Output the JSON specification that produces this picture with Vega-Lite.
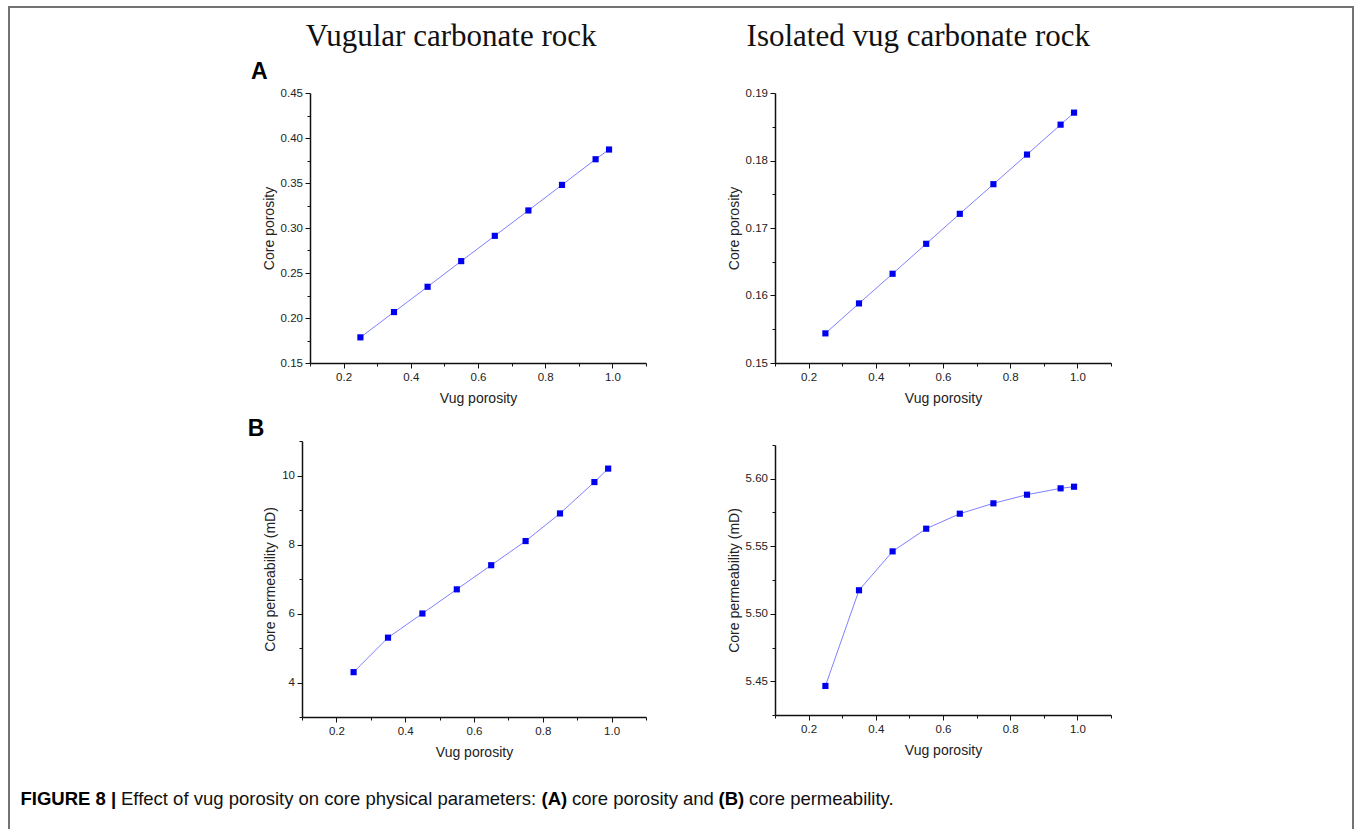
{
  "$schema": "https://vega.github.io/schema/vega-lite/v6.json",
  "padding": {"left": 8, "top": 6, "right": 0, "bottom": 0},
  "background": "white",
  "datasets": {
    "vugularPorosity": [
      {"vug": 0.25, "core": 0.1785},
      {"vug": 0.35, "core": 0.2066},
      {"vug": 0.45, "core": 0.2347},
      {"vug": 0.55, "core": 0.2632},
      {"vug": 0.65, "core": 0.2913},
      {"vug": 0.75, "core": 0.3195},
      {"vug": 0.85, "core": 0.3479},
      {"vug": 0.95, "core": 0.3764},
      {"vug": 0.99, "core": 0.3872}
    ],
    "isolatedPorosity": [
      {"vug": 0.25, "core": 0.15439},
      {"vug": 0.35, "core": 0.15883},
      {"vug": 0.45, "core": 0.16322},
      {"vug": 0.55, "core": 0.16766},
      {"vug": 0.65, "core": 0.1721},
      {"vug": 0.75, "core": 0.17649},
      {"vug": 0.85, "core": 0.18088},
      {"vug": 0.95, "core": 0.18531},
      {"vug": 0.99, "core": 0.18709}
    ],
    "vugularPermeability": [
      {"vug": 0.25, "perm": 4.3},
      {"vug": 0.35, "perm": 5.3},
      {"vug": 0.45, "perm": 6.0},
      {"vug": 0.55, "perm": 6.7},
      {"vug": 0.65, "perm": 7.4},
      {"vug": 0.75, "perm": 8.1},
      {"vug": 0.85, "perm": 8.9},
      {"vug": 0.95, "perm": 9.81},
      {"vug": 0.99, "perm": 10.2}
    ],
    "isolatedPermeability": [
      {"vug": 0.25, "perm": 5.4465},
      {"vug": 0.35, "perm": 5.5174},
      {"vug": 0.45, "perm": 5.5462},
      {"vug": 0.55, "perm": 5.563},
      {"vug": 0.65, "perm": 5.5741},
      {"vug": 0.75, "perm": 5.5818},
      {"vug": 0.85, "perm": 5.5882},
      {"vug": 0.95, "perm": 5.5929},
      {"vug": 0.99, "perm": 5.5941}
    ],
    "none": []
  },
  "config": {
    "view": {"stroke": null},
    "axis": {
      "grid": false,
      "domainColor": "#111",
      "domainWidth": 1.5,
      "tickColor": "#111",
      "tickWidth": 1,
      "labelFont": "Liberation Sans",
      "labelFontSize": 11.5,
      "labelColor": "#222",
      "labelPadding": 2.5,
      "labelFlush": false,
      "labelOverlap": false,
      "titleFont": "Liberation Sans",
      "titleFontSize": 14,
      "titleFontWeight": "normal",
      "titleColor": "#222",
      "titlePadding": 4
    },
    "axisX": {"labelPadding": 3, "titlePadding": 9}
  },
  "spacing": 0,
  "hconcat": [
    {
      "width": 2,
      "height": 823,
      "view": {"fill": "#737373", "stroke": null},
      "data": {"name": "none"},
      "mark": "point"
    },
    {
      "spacing": 13,
      "vconcat": [
        {
          "width": 1342,
          "height": 2,
          "view": {"fill": "#737373", "stroke": null},
          "data": {"name": "none"},
          "mark": "point"
        },
        {
          "spacing": 29,
          "vconcat": [
            {
              "spacing": 0,
              "hconcat": [
                {"width": 237, "height": 1, "data": {"name": "none"}, "mark": "point"},
                {
                  "spacing": 80,
                  "hconcat": [
                    {
                      "title": {"text": "Vugular carbonate rock", "font": "Liberation Serif", "fontSize": 31, "fontWeight": "normal", "color": "#111", "anchor": "middle", "frame": "bounds", "dx": 4, "offset": 8},
                      "spacing": 12,
                      "vconcat": [
                        {
                          "title": {"text": "A", "font": "Liberation Sans", "fontSize": 23, "fontWeight": "bold", "color": "#000", "anchor": "start", "frame": "bounds", "dx": -11, "offset": 3},
                          "width": 344,
                          "height": 270,
                          "data": {"name": "vugularPorosity"},
                          "encoding": {
                            "x": {"field": "vug", "type": "quantitative", "scale": {"domain": [0.1, 1.1], "range": [8, 344], "nice": false, "zero": false},
                              "axis": {"title": "Vug porosity", "values": [0.1, 0.2, 0.3, 0.4, 0.5, 0.6, 0.7, 0.8, 0.9, 1.0, 1.1],
                                "labelExpr": "round(datum.value*10)%2==0 ? format(datum.value,'.1f') : ''",
                                "tickSize": {"condition": {"test": "round(datum.value*10)%2==0", "value": 5}, "value": 3}}},
                            "y": {"field": "core", "type": "quantitative", "scale": {"domain": [0.15, 0.45], "nice": false, "zero": false},
                              "axis": {"title": "Core porosity", "offset": -8, "values": [0.15, 0.175, 0.2, 0.225, 0.25, 0.275, 0.3, 0.325, 0.35, 0.375, 0.4, 0.425, 0.45],
                                "labelExpr": "round(datum.value*40)%2==0 ? format(datum.value,'.2f') : ''",
                                "tickSize": {"condition": {"test": "round(datum.value*40)%2==0", "value": 5}, "value": 3}}}
                          },
                          "layer": [
                            {"mark": {"type": "line", "color": "#8080ff", "strokeWidth": 1}},
                            {"mark": {"type": "square", "color": "#0000f0", "size": 38, "filled": true, "opacity": 1}}
                          ]
                        },
                        {
                          "title": {"text": "B", "font": "Liberation Sans", "fontSize": 23, "fontWeight": "bold", "color": "#000", "anchor": "start", "frame": "bounds", "dx": -16, "offset": -6},
                          "width": 344,
                          "height": 276,
                          "data": {"name": "vugularPermeability"},
                          "encoding": {
                            "x": {"field": "vug", "type": "quantitative", "scale": {"domain": [0.1, 1.1], "nice": false, "zero": false},
                              "axis": {"title": "Vug porosity", "values": [0.1, 0.2, 0.3, 0.4, 0.5, 0.6, 0.7, 0.8, 0.9, 1.0, 1.1],
                                "labelExpr": "round(datum.value*10)%2==0 ? format(datum.value,'.1f') : ''",
                                "tickSize": {"condition": {"test": "round(datum.value*10)%2==0", "value": 5}, "value": 3}}},
                            "y": {"field": "perm", "type": "quantitative", "scale": {"domain": [3, 11], "nice": false, "zero": false},
                              "axis": {"title": "Core permeability (mD)", "values": [3, 4, 5, 6, 7, 8, 9, 10, 11],
                                "labelExpr": "datum.value%2==0 ? format(datum.value,'d') : ''",
                                "tickSize": {"condition": {"test": "datum.value%2==0", "value": 5}, "value": 3}}}
                          },
                          "layer": [
                            {"mark": {"type": "line", "color": "#8080ff", "strokeWidth": 1}},
                            {"mark": {"type": "square", "color": "#0000f0", "size": 38, "filled": true, "opacity": 1}}
                          ]
                        }
                      ]
                    },
                    {
                      "title": {"text": "Isolated vug carbonate rock", "font": "Liberation Serif", "fontSize": 31, "fontWeight": "normal", "color": "#111", "anchor": "middle", "frame": "bounds", "dx": -1, "offset": 8},
                      "spacing": 12,
                      "vconcat": [
                        {
                          "title": {"text": " ", "font": "Liberation Sans", "fontSize": 23, "fontWeight": "bold", "anchor": "start", "offset": 3},
                          "width": 336,
                          "height": 270,
                          "data": {"name": "isolatedPorosity"},
                          "encoding": {
                            "x": {"field": "vug", "type": "quantitative", "scale": {"domain": [0.1, 1.1], "nice": false, "zero": false},
                              "axis": {"title": "Vug porosity", "values": [0.1, 0.2, 0.3, 0.4, 0.5, 0.6, 0.7, 0.8, 0.9, 1.0, 1.1],
                                "labelExpr": "round(datum.value*10)%2==0 ? format(datum.value,'.1f') : ''",
                                "tickSize": {"condition": {"test": "round(datum.value*10)%2==0", "value": 5}, "value": 3}}},
                            "y": {"field": "core", "type": "quantitative", "scale": {"domain": [0.15, 0.19], "nice": false, "zero": false},
                              "axis": {"title": "Core porosity", "values": [0.15, 0.155, 0.16, 0.165, 0.17, 0.175, 0.18, 0.185, 0.19],
                                "labelExpr": "round(datum.value*200)%2==0 ? format(datum.value,'.2f') : ''",
                                "tickSize": {"condition": {"test": "round(datum.value*200)%2==0", "value": 5}, "value": 3}}}
                          },
                          "layer": [
                            {"mark": {"type": "line", "color": "#8080ff", "strokeWidth": 1}},
                            {"mark": {"type": "square", "color": "#0000f0", "size": 38, "filled": true, "opacity": 1}}
                          ]
                        },
                        {
                          "title": {"text": " ", "font": "Liberation Sans", "fontSize": 23, "fontWeight": "bold", "anchor": "start", "offset": -2.5},
                          "width": 336,
                          "height": 270,
                          "data": {"name": "isolatedPermeability"},
                          "encoding": {
                            "x": {"field": "vug", "type": "quantitative", "scale": {"domain": [0.1, 1.1], "nice": false, "zero": false},
                              "axis": {"title": "Vug porosity", "values": [0.1, 0.2, 0.3, 0.4, 0.5, 0.6, 0.7, 0.8, 0.9, 1.0, 1.1],
                                "labelExpr": "round(datum.value*10)%2==0 ? format(datum.value,'.1f') : ''",
                                "tickSize": {"condition": {"test": "round(datum.value*10)%2==0", "value": 5}, "value": 3}}},
                            "y": {"field": "perm", "type": "quantitative", "scale": {"domain": [5.425, 5.625], "nice": false, "zero": false},
                              "axis": {"title": "Core permeability (mD)", "values": [5.425, 5.45, 5.475, 5.5, 5.525, 5.55, 5.575, 5.6, 5.625],
                                "labelExpr": "round(datum.value*40)%2==0 ? format(datum.value,'.2f') : ''",
                                "tickSize": {"condition": {"test": "round(datum.value*40)%2==0", "value": 5}, "value": 3}}}
                          },
                          "layer": [
                            {"mark": {"type": "line", "color": "#8080ff", "strokeWidth": 1}},
                            {"mark": {"type": "square", "color": "#0000f0", "size": 38, "filled": true, "opacity": 1}}
                          ]
                        }
                      ]
                    }
                  ]
                }
              ]
            },
            {
              "spacing": 4.5,
              "hconcat": [
                {"width": 6, "height": 1, "data": {"name": "none"}, "mark": "point"},
                {"width": 1, "height": 1, "data": {"name": "none"}, "mark": "point",
                  "title": {"text": "FIGURE 8 |", "font": "Liberation Sans", "fontSize": 18.5, "fontWeight": "bold", "color": "#000", "anchor": "start", "offset": 0}},
                {"width": 1, "height": 1, "data": {"name": "none"}, "mark": "point",
                  "title": {"text": "Effect of vug porosity on core physical parameters:", "font": "Liberation Sans", "fontSize": 18.5, "fontWeight": "normal", "color": "#111", "anchor": "start", "offset": 0}},
                {"width": 1, "height": 1, "data": {"name": "none"}, "mark": "point",
                  "title": {"text": "(A)", "font": "Liberation Sans", "fontSize": 18.5, "fontWeight": "bold", "color": "#000", "anchor": "start", "offset": 0}},
                {"width": 1, "height": 1, "data": {"name": "none"}, "mark": "point",
                  "title": {"text": "core porosity and", "font": "Liberation Sans", "fontSize": 18.5, "fontWeight": "normal", "color": "#111", "anchor": "start", "offset": 0}},
                {"width": 1, "height": 1, "data": {"name": "none"}, "mark": "point",
                  "title": {"text": "(B)", "font": "Liberation Sans", "fontSize": 18.5, "fontWeight": "bold", "color": "#000", "anchor": "start", "offset": 0}},
                {"width": 1, "height": 1, "data": {"name": "none"}, "mark": "point",
                  "title": {"text": "core permeability.", "font": "Liberation Sans", "fontSize": 18.5, "fontWeight": "normal", "color": "#111", "anchor": "start", "offset": 0}}
              ]
            }
          ]
        }
      ]
    },
    {
      "width": 2,
      "height": 823,
      "view": {"fill": "#737373", "stroke": null},
      "data": {"name": "none"},
      "mark": "point"
    }
  ]
}
